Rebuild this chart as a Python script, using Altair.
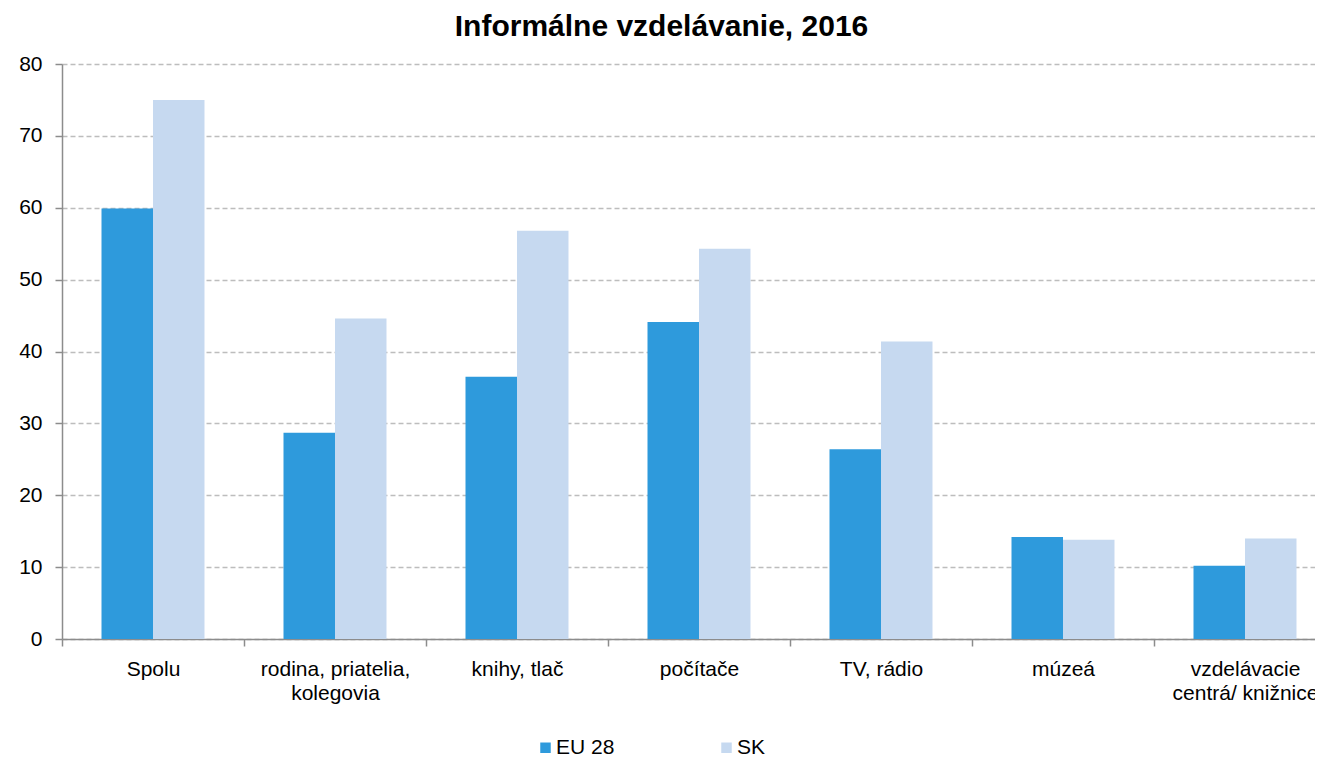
import altair as alt
import pandas as pd

categories = [
    "Spolu",
    "rodina, priatelia,|kolegovia",
    "knihy, tlač",
    "počítače",
    "TV, rádio",
    "múzeá",
    "vzdelávacie|centrá/ knižnice",
]
series = ["EU 28", "SK"]
eu28 = [59.9, 28.7, 36.5, 44.1, 26.4, 14.2, 10.2]
sk = [75.0, 44.6, 56.8, 54.3, 41.4, 13.8, 14.0]
colors = ["#2E9ADC", "#C6D9F0"]

rows = []
for c, e, s in zip(categories, eu28, sk):
    rows.append({"cat": c, "series": "EU 28", "value": e})
    rows.append({"cat": c, "series": "SK", "value": s})
df = pd.DataFrame(rows)

FONT = "Liberation Sans"

chart = (
    alt.Chart(df)
    .mark_bar()
    .encode(
        x=alt.X(
            "cat:N",
            sort=categories,
            title=None,
            scale=alt.Scale(range=[0, 1274], paddingInner=0, paddingOuter=0),
            axis=alt.Axis(
                labelAngle=0,
                labelExpr="split(datum.label, '|')",
                labelFont=FONT,
                labelFontSize=21,
                labelColor="#000000",
                labelLineHeight=24,
                labelPadding=12,
                labelLimit=300,
                tickBand="extent",
                tickSize=7,
                tickColor="#8c8c8c",
                tickWidth=1.5,
                domainColor="#8c8c8c",
                domainWidth=1.5,
                grid=False,
            ),
        ),
        xOffset=alt.XOffset(
            "series:N", sort=series, scale=alt.Scale(paddingInner=0, paddingOuter=0.767)
        ),
        y=alt.Y(
            "value:Q",
            title=None,
            scale=alt.Scale(domain=[0, 80], nice=False),
            axis=alt.Axis(
                values=[0, 10, 20, 30, 40, 50, 60, 70, 80],
                labelFont=FONT,
                labelFontSize=21,
                labelColor="#000000",
                labelPadding=13,
                tickSize=7,
                tickColor="#8c8c8c",
                tickWidth=1.5,
                domainColor="#8c8c8c",
                domainWidth=1.5,
                grid=True,
                gridColor="#bdbdbd",
                gridDash=[5, 3],
                gridWidth=1.5,
            ),
        ),
        color=alt.Color(
            "series:N",
            sort=series,
            scale=alt.Scale(domain=series, range=colors),
            legend=alt.Legend(
                title=None,
                orient="none",
                direction="horizontal",
                legendX=473,
                legendY=673,
                symbolType="square",
                symbolSize=110,
                symbolStrokeWidth=0,
                labelFont=FONT,
                labelFontSize=21,
                labelColor="#000000",
                labelOffset=0,
                columnPadding=101,
                padding=0,
            ),
        ),
    )
    .properties(
        width=1253,
        height=575,
        autosize=alt.AutoSizeParams(type="none"),
        padding={"left": 54, "top": 56, "right": 0, "bottom": 119},
        title=alt.TitleParams(
            "Informálne vzdelávanie, 2016",
            font=FONT,
            fontSize=30,
            fontWeight="bold",
            color="#000000",
            anchor="middle",
            frame="group",
            dx=-27,
            offset=11,
        ),
    )
    .configure_view(stroke=None)
)

chart.save("out.html", embed_options={"renderer": "svg", "actions": False})
